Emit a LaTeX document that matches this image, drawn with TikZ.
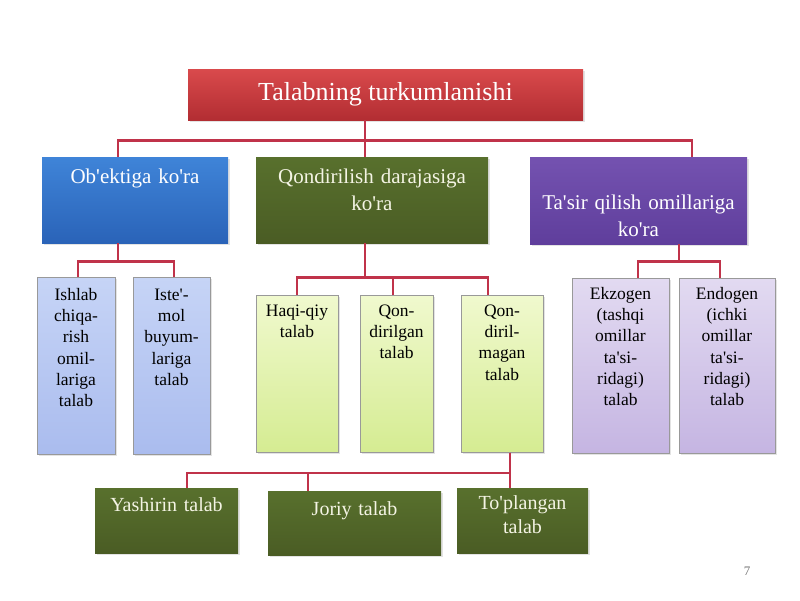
\documentclass[tikz,border=0pt]{standalone}
\usepackage{fontspec}
\setmainfont{Liberation Serif}[Ligatures=TeXOff]
\usetikzlibrary{positioning,shadows}

\definecolor{headtop}{HTML}{D94A4C}
\definecolor{headbot}{HTML}{B22D32}
\definecolor{bluetop}{HTML}{3F84D8}
\definecolor{bluebot}{HTML}{2A63B8}
\definecolor{olivetop}{HTML}{58702D}
\definecolor{olivebot}{HTML}{4A5C24}
\definecolor{violtop}{HTML}{7452B0}
\definecolor{violbot}{HTML}{5F3E9C}
\definecolor{lbtop}{HTML}{C6D4F6}
\definecolor{lbbot}{HTML}{AABCEE}
\definecolor{lgtop}{HTML}{F0F9CE}
\definecolor{lgbot}{HTML}{D5EC92}
\definecolor{lvtop}{HTML}{E2DAF1}
\definecolor{lvbot}{HTML}{C5B5E2}
\definecolor{linkred}{HTML}{C0334A}
\definecolor{cream}{HTML}{F4F4E4}

\begin{document}
\begin{tikzpicture}[
    x=1pt, y=-1pt,
    every node/.style={align=center, inner xsep=2pt, inner ysep=0pt},
    box/.style={
      rectangle, anchor=north,
      drop shadow={shadow xshift=2pt, shadow yshift=-2pt, opacity=0.22}
    },
    head/.style={
      box, top color=headtop, bottom color=headbot, text=white,
      font=\fontsize{26}{31}\selectfont,
      minimum width=395pt, minimum height=51pt
    },
    group/.style={box, text=white, font=\fontsize{21}{27}\selectfont},
    leaf/.style={
      box, draw=black!40, line width=0.6pt,
      font=\fontsize{17.5}{21.3}\selectfont
    },
    kind/.style={
      box, top color=olivetop, bottom color=olivebot, text=cream,
      font=\fontsize{20}{24}\selectfont
    },
    link/.style={draw=linkred, line width=2.2pt}
  ]

    \useasboundingbox (0,0) rectangle (800,600);

    \node[head] (title) at (385.5,69) {Talabning turkumlanishi};

    % second level
    \node[group, top color=bluetop, bottom color=bluebot,
          text width=182pt, text height=26pt, text depth=60pt]
      (objekt) at (135,157) {Ob'ektiga ko'ra};
    \node[group, top color=olivetop, bottom color=olivebot, text=cream,
          text width=228pt, text height=26pt, text depth=60pt]
      (qondir) at (372,157) {Qondirilish darajasiga\\ko'ra};
    \node[group, top color=violtop, bottom color=violbot,
          text width=213pt, text height=52pt, text depth=35pt]
      (tasir) at (638.5,157) {Ta'sir qilish omillariga\\ko'ra};

    % leaves
    \node[leaf, top color=lbtop, bottom color=lbbot,
          text width=74pt, text height=23pt, text depth=154pt]
      (ishlab) at (76,277) {Ishlab\\chiqa-\\rish\\omil-\\lariga\\talab};
    \node[leaf, top color=lbtop, bottom color=lbbot,
          text width=73pt, text height=23pt, text depth=154pt]
      (istemol) at (171.5,277) {Iste'-\\mol\\buyum-\\lariga\\talab};

    \node[leaf, top color=lgtop, bottom color=lgbot,
          text width=78pt, text height=21pt, text depth=136pt]
      (haqiqiy) at (297,295) {Haqi-qiy\\talab};
    \node[leaf, top color=lgtop, bottom color=lgbot,
          text width=69pt, text height=21pt, text depth=136pt]
      (qondirilgan) at (396.5,295) {Qon-\\dirilgan\\talab};
    \node[leaf, top color=lgtop, bottom color=lgbot,
          text width=78pt, text height=21pt, text depth=136pt]
      (qondirilmagan) at (502,295) {Qon-\\diril-\\magan\\talab};

    \node[leaf, top color=lvtop, bottom color=lvbot,
          text width=93pt, text height=21pt, text depth=154pt]
      (ekzogen) at (620.5,278) {Ekzogen\\(tashqi\\omillar\\ta'si-\\ridagi)\\talab};
    \node[leaf, top color=lvtop, bottom color=lvbot,
          text width=92pt, text height=21pt, text depth=154pt]
      (endogen) at (727,278) {Endogen\\(ichki\\omillar\\ta'si-\\ridagi)\\talab};

    % kinds of unmet demand
    \node[kind, text width=139pt, text height=23pt, text depth=42pt]
      (yashirin) at (166.5,488) {Yashirin talab};
    \node[kind, text width=169pt, text height=24pt, text depth=40pt]
      (joriy) at (354.5,491) {Joriy talab};
    \node[kind, text width=127pt, text height=21pt, text depth=44pt]
      (toplangan) at (522.5,488) {To'plangan\\talab};

    \node[text=black!55, font=\fontsize{13}{15}\selectfont] (page) at (747,571) {7};

    \draw[link] ([xshift=-20.5pt]title.south) -- ++(0,20) -| ([xshift=-17pt]objekt.north);
    \draw[link] ([xshift=-20.5pt]title.south) -- ++(0,20) -| ([xshift=53.5pt]tasir.north);
    \draw[link] ([xshift=-20.5pt]title.south) -- ([xshift=-7pt]qondir.north);

    \draw[link] ([xshift=-17pt]objekt.south) -- ++(0,18) -| ([xshift=2pt]ishlab.north);
    \draw[link] ([xshift=-17pt]objekt.south) -- ++(0,18) -| ([xshift=2.5pt]istemol.north);

    \draw[link] ([xshift=-7pt]qondir.south) -- ++(0,34) -| (haqiqiy.north);
    \draw[link] ([xshift=-7pt]qondir.south) -- ++(0,34) -| ([xshift=-3.5pt]qondirilgan.north);
    \draw[link] ([xshift=-7pt]qondir.south) -- ++(0,34) -| ([xshift=-14pt]qondirilmagan.north);

    \draw[link] ([xshift=40.5pt]tasir.south) -- ++(0,17) -| ([xshift=17.5pt]ekzogen.north);
    \draw[link] ([xshift=40.5pt]tasir.south) -- ++(0,17) -| ([xshift=-7pt]endogen.north);

    \draw[link] ([xshift=8pt]qondirilmagan.south) -- ++(0,20) -| ([xshift=20.5pt]yashirin.north);
    \draw[link] ([xshift=8pt]qondirilmagan.south) -- ++(0,20) -| ([xshift=-46.5pt]joriy.north);
    \draw[link] ([xshift=8pt]qondirilmagan.south) -- ([xshift=-12.5pt]toplangan.north);

  \end{tikzpicture}
\end{document}
